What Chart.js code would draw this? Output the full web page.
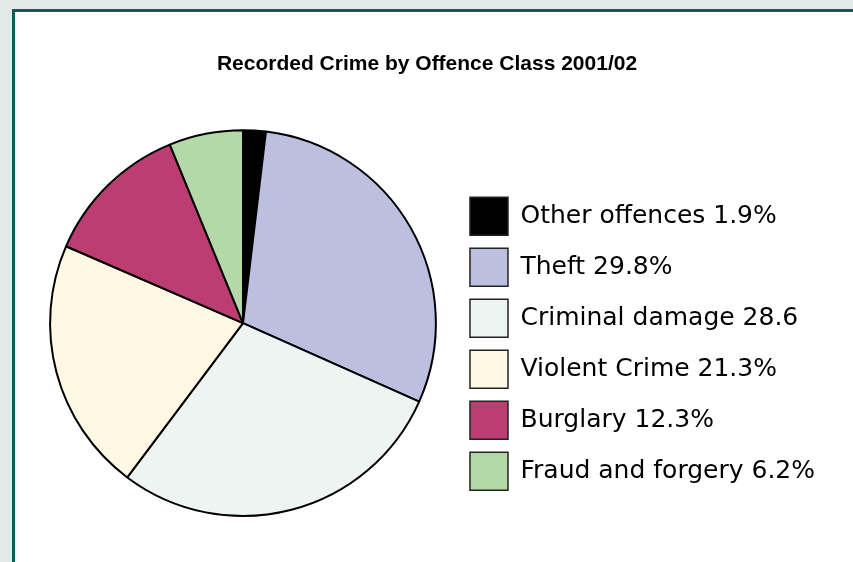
<!DOCTYPE html>
<html>
<head>
<meta charset="utf-8">
<script src="https://cdn.jsdelivr.net/npm/chart.js@4.4.1/dist/chart.umd.min.js"></script>
<style>
  html, body { margin: 0; padding: 0; background: #e3e9e7; overflow: hidden; }
  body { width: 853px; height: 562px; position: relative; }
  #frame {
    position: absolute; left: 12px; top: 9px; width: 900px; height: 600px;
    background: #ffffff;
    border-left: 3px solid #0d5c56; border-top: 3px solid #0d5c56;
  }
  #chart { position: absolute; left: 15px; top: 12px; }
</style>
</head>
<body>
<div id="frame"></div>
<canvas id="chart" width="838" height="550"></canvas>
<script>
// Offence classes, clockwise from 12 o'clock
const categories = ["Other offences", "Theft", "Criminal damage", "Violent Crime", "Burglary", "Fraud and forgery"];
const shares = [1.9, 29.8, 28.6, 21.3, 12.3, 6.2];
// legend texts as printed on the figure
const legendLabels = ["Other offences 1.9%", "Theft 29.8%", "Criminal damage 28.6", "Violent Crime 21.3%", "Burglary 12.3%", "Fraud and forgery 6.2%"];
const sliceColors = ["#000000", "#bcbfdf", "#eef4f1", "#fff8e3", "#bb3d72", "#b5d8a8"];

const ctx = document.getElementById("chart").getContext("2d");

new Chart(ctx, {
    type: "pie",
    data: {
        labels: categories,
        datasets: [{
            data: shares,
            backgroundColor: sliceColors,
            borderColor: "#000000",
            borderWidth: 2
        }]
    },
    options: {
        responsive: false,
        devicePixelRatio: 1,
        animation: false,
        layout: {
            padding: { left: 14, right: 28, top: 0, bottom: 45 }
        },
        plugins: {
            title: {
                display: true,
                text: "Recorded Crime by Offence Class 2001/02",
                color: "#000000",
                font: { family: "'Liberation Sans', Arial, sans-serif", size: 21, weight: "bold" },
                padding: { top: 40, bottom: 52 }
            },
            legend: {
                position: "right",
                fullSize: false,
                align: "center",
                // empty title only pushes the items down a little
                title: { display: true, text: "", font: { size: 1 }, padding: { top: 20, bottom: 20 } },
                labels: {
                    boxWidth: 38,
                    boxHeight: 38,
                    padding: 13,
                    color: "#000000",
                    font: { family: "'DejaVu Sans', sans-serif", size: 25 },
                    generateLabels: function (chart) {
                        return shares.map(function (v, i) {
                            return {
                                text: legendLabels[i],
                                fillStyle: sliceColors[i],
                                strokeStyle: "#222222",
                                fontColor: "#000000",
                                lineWidth: 1.5,
                                hidden: false,
                                index: i
                            };
                        });
                    }
                }
            },
            tooltip: { enabled: false }
        }
    }
});
</script>
</body>
</html>
